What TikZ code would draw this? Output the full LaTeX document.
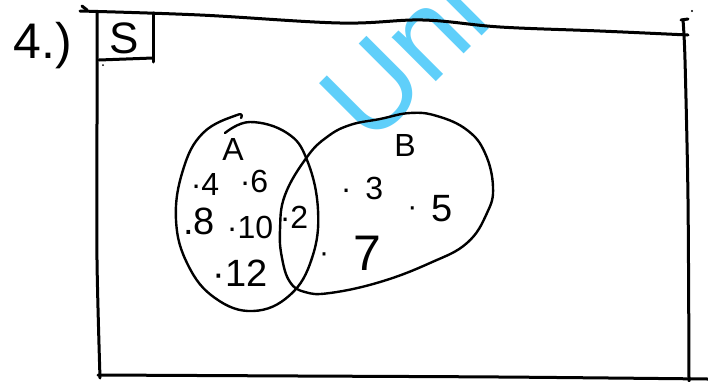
\documentclass[tikz,border=0pt]{standalone}
\usepackage{fontspec}
\setmainfont{Liberation Sans}
\definecolor{wmblue}{RGB}{95,207,250}
\tikzset{
  pen/.style={line width=2.4pt, line cap=round, line join=round, black},
  framepen/.style={line width=3pt, line cap=round, line join=round, black},
  lbl/.style={inner sep=0pt, font=\fontsize{32}{32}\selectfont},
  lblbig/.style={inner sep=0pt, font=\fontsize{38}{38}\selectfont},
  wm/.style={inner sep=0pt, text=wmblue, font=\fontsize{118}{118}\selectfont}
}
\begin{document}
\begin{tikzpicture}[x=1pt,y=-1pt]
\useasboundingbox (0,0) rectangle (708,381);
\fill[white] (0,0) rectangle (708,381);
\clip (0,0) rectangle (708,381);
% watermark
\node[wm, anchor=base west, rotate=45] (wmark) at (370,148) {Uni};
% frame
\draw[framepen] plot[smooth, tension=0.6] coordinates {(80,11) (200,15) (340,23) (423,20) (500,27) (600,31) (688,35)};
\draw[framepen] (82,6) -- (87,10);
\draw[framepen] plot[smooth, tension=0.5] coordinates {(97,13) (97,120) (97,260) (100,378)};
\draw[framepen] plot[smooth, tension=0.5] coordinates {(98,375) (300,376) (500,377) (708,379)};
\draw[framepen] plot[smooth, tension=0.5] coordinates {(683,20) (685,60) (688,200) (689,381)};
\draw[framepen] (681,20) -- (688,19);
\fill (692,11) circle (1.2pt);
% S box
\draw[framepen] (153,13) -- (153,62);
\draw[framepen] (99,60) -- (153,58);
\fill (103,65) circle (1pt);
\node[inner sep=0pt, font=\fontsize{50}{50}\selectfont] (num) at (43,46) {4.)};
\node[inner sep=0pt, font=\fontsize{44}{44}\selectfont] (S) at (124,38) {S};
% set A
\draw[pen] plot[smooth, tension=0.7] coordinates {(225,133) (250,122) (287,133) (307,160) (318,210) (312,258) (290,295) (253,311) (215,298) (188,265) (176,220) (183,170) (203,133) (237,115) (241,118)};
% set B
\draw[pen] plot[smooth cycle, tension=0.7] coordinates {(307,157) (327,137) (350,125) (380,119) (410,113) (437,116) (467,130) (485,153) (493,187) (487,213) (467,243) (430,263) (380,282) (330,293) (305,292) (290,282) (282,258) (280,230) (285,195)};
% labels
\node[lbl] (lA) at (233,149) {A};
\node[lbl] (lB) at (405,145) {B};
\node[lbl] (e4) at (205,184) {·4};
\node[lbl] (e6) at (254,181) {·6};
\node[lblbig] (e8) at (199,221) {.8};
\node[lbl] (e10) at (250,227) {·10};
\node[lbl] (e2) at (294,217) {·2};
\node[lblbig] (e12) at (240,273) {·12};
\node[lbl] (e3) at (362,188) {·\hspace{14pt}3};
\node[lblbig] (e5) at (430,209) {\raisebox{5pt}{\fontsize{30}{30}\selectfont ·}\hspace{14pt}5};
\node[inner sep=0pt, font=\fontsize{50}{50}\selectfont] (e7) at (350,253) {\raisebox{8pt}{\fontsize{30}{30}\selectfont ·}\hspace{24pt}7};
\end{tikzpicture}
\end{document}
